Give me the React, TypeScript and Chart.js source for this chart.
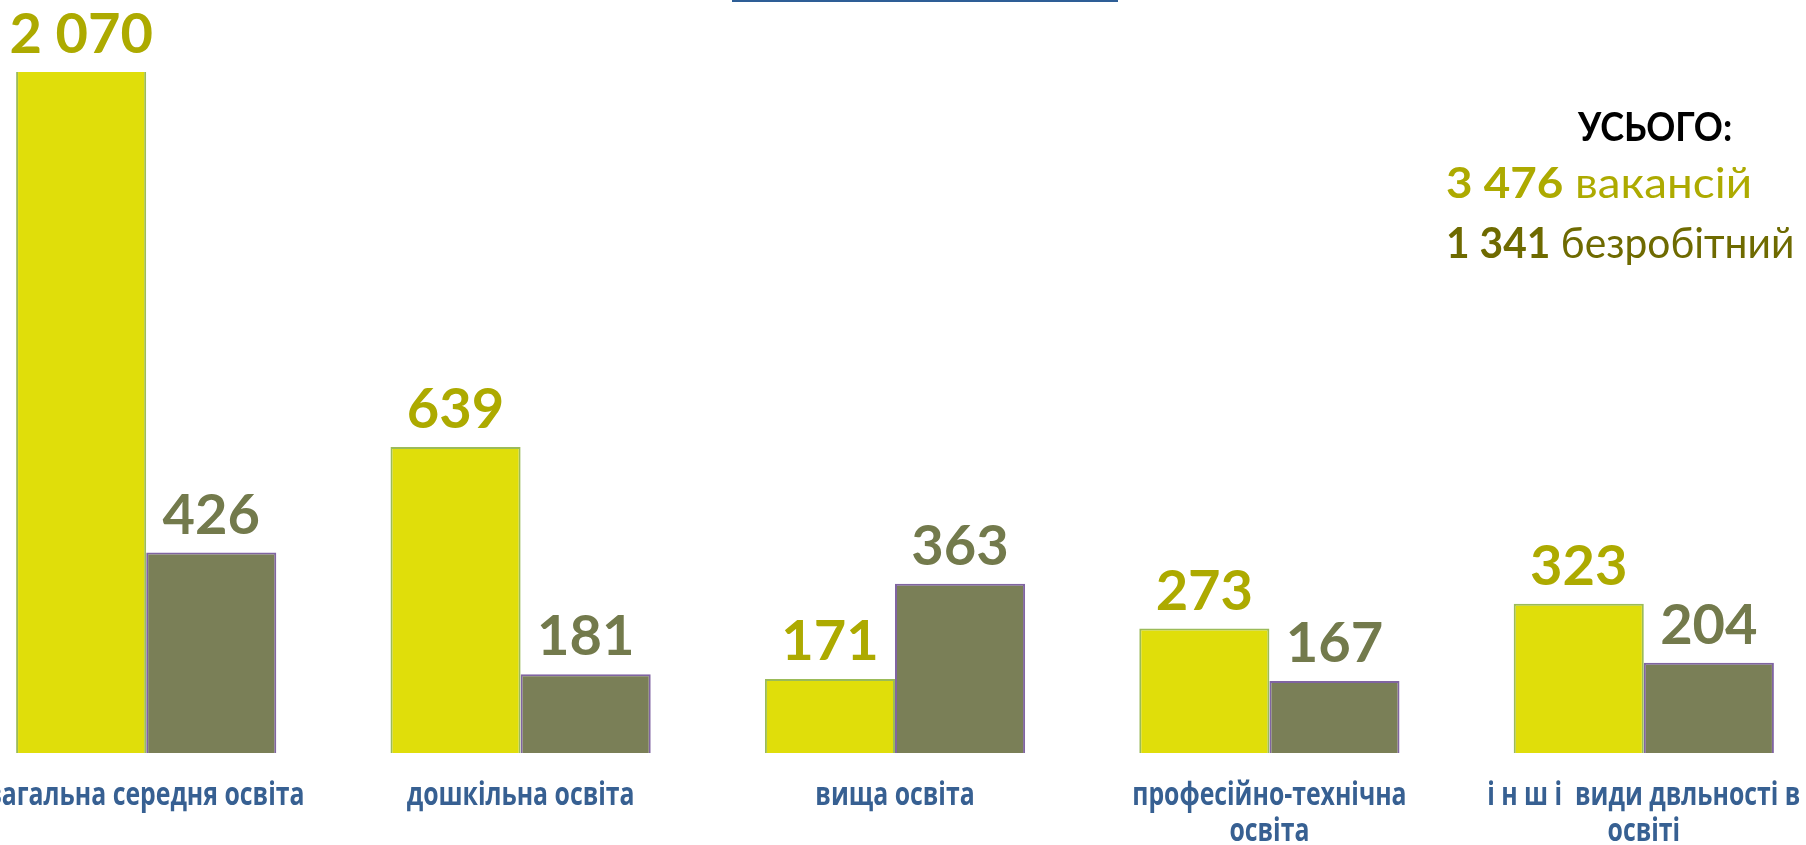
import { useEffect, useRef } from "react";
import { Chart, registerables } from "chart.js";

Chart.register(...registerables);

// ---- data ----
const categories: string[][] = [
  ["загальна середня освіта"],
  ["дошкільна освіта"],
  ["вища освіта"],
  ["професійно-технічна", "освіта"],
  ["і н ш і  види двльності в", "освіті"],
];
const vacancies: number[] = [2070, 639, 171, 273, 323];
const unemployed: number[] = [426, 181, 363, 167, 204];
const seriesNames: string[] = ["вакансій", "безробітний"];
const totalTitle = "УСЬОГО:";
const axisMin = 22;
const axisMax = 1395;

// ---- styles ----
const barFill = ["#E0DE0A", "#7A7F57"];
const barBorder = ["#9BBB59", "#8064A2"];
const valueColors = ["#ADAA00", "#737A4C"];
const legendColors = ["#ADAA00", "#6E6A00"];
const categoryColor = "#376092";

const CANVAS_LEFT = -41;
const CANVAS_W = 1872;
const CANVAS_H = 845;

function fmt(n: number): string {
  return String(n).replace(/\B(?=(\d{3})+(?!\d))/g, " ");
}
const sum = (a: number[]) => a.reduce((s, v) => s + v, 0);

export default function App() {
  const ref = useRef<HTMLCanvasElement>(null);

  useEffect(() => {
    let chart: Chart | null = null;
    let cancelled = false;

    const labelPlugin = {
      id: "customLabels",
      afterDatasetsDraw(c: any) {
        const ctx = c.ctx as CanvasRenderingContext2D;
        const area = c.chartArea;
        ctx.save();
        ctx.textAlign = "center";
        ctx.textBaseline = "alphabetic";
        ctx.font = "bold 56px Lato";
        c.data.datasets.forEach((ds: any, di: number) => {
          const meta = c.getDatasetMeta(di);
          meta.data.forEach((bar: any, i: number) => {
            const top = Math.max(bar.y, area.top);
            ctx.fillStyle = valueColors[di];
            ctx.fillText(fmt(ds.data[i]), bar.x, top - 19);
          });
        });
        const xs = c.scales.x;
        ctx.font = "bold 32px 'Open Sans'";
        ctx.fillStyle = categoryColor;
        categories.forEach((lines, i) => {
          const x = xs.getPixelForValue(i);
          lines.forEach((line, li) => {
            ctx.save();
            ctx.translate(x, area.bottom + 52 + li * 36);
            ctx.scale(0.775, 1);
            ctx.fillText(line, 0, 0);
            ctx.restore();
          });
        });
        ctx.restore();
      },
    };

    const build = () => {
      if (cancelled || !ref.current) return;
      chart = new Chart(ref.current, {
        type: "bar",
        data: {
          labels: categories,
          datasets: [
            {
              label: seriesNames[0],
              data: vacancies,
              backgroundColor: barFill[0],
              borderColor: barBorder[0],
              borderWidth: 2,
            },
            {
              label: seriesNames[1],
              data: unemployed,
              backgroundColor: barFill[1],
              borderColor: barBorder[1],
              borderWidth: 2,
            },
          ],
        },
        options: {
          animation: false,
          responsive: false,
          layout: { padding: { top: 72, bottom: 92, left: 0, right: 0 } },
          datasets: { bar: { categoryPercentage: 0.695, barPercentage: 1 } },
          plugins: { legend: { display: false }, tooltip: { enabled: false }, title: { display: false } },
          scales: {
            x: { display: false, grid: { display: false } },
            y: { display: false, min: axisMin, max: axisMax, grid: { display: false } },
          },
        },
        plugins: [labelPlugin],
      });
    };

    const fontsReady = (document as any).fonts
      ? Promise.all([
          (document as any).fonts.load("bold 56px Lato"),
          (document as any).fonts.load("bold 32px 'Open Sans'"),
        ]).catch(() => null)
      : Promise.resolve(null);
    fontsReady.then(build);

    return () => {
      cancelled = true;
      if (chart) chart.destroy();
    };
  }, []);

  const legendBase: React.CSSProperties = {
    position: "absolute",
    fontFamily: "Lato, sans-serif",
    lineHeight: 1,
    whiteSpace: "pre",
    transformOrigin: "left top",
  };

  return (
    <div style={{ position: "fixed", inset: 0, overflow: "hidden", background: "#fff" }}>
      <canvas
        ref={ref}
        width={CANVAS_W}
        height={CANVAS_H}
        style={{ position: "absolute", left: CANVAS_LEFT, top: 0, width: CANVAS_W, height: CANVAS_H, display: "block" }}
      />
      <div style={{ position: "absolute", left: 732, top: 0, width: 386, height: 2, background: "#2E5E96" }} />
      <div style={{ ...legendBase, left: 1578, top: 105.5, fontSize: 40, fontWeight: 700, color: "#000", transform: "scaleX(0.9)" }}>
        {totalTitle}
      </div>
      <div style={{ ...legendBase, left: 1446, top: 160.7, fontSize: 42, color: legendColors[0], transform: "scaleX(1.09)" }}>
        <b>{fmt(sum(vacancies))}</b> {seriesNames[0]}
      </div>
      <div style={{ ...legendBase, left: 1446, top: 220.7, fontSize: 42, color: legendColors[1], transform: "scaleX(0.97)" }}>
        <b>{fmt(sum(unemployed))}</b> {seriesNames[1]}
      </div>
    </div>
  );
}
